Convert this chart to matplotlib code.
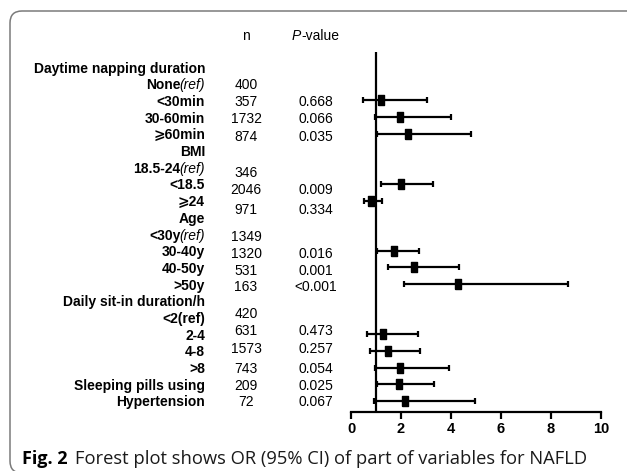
import numpy as np
import matplotlib
matplotlib.use("Agg")
import matplotlib.pyplot as plt
from matplotlib import transforms
from matplotlib.patches import FancyBboxPatch

# row labels (bold part, italic "(ref)" suffix handled separately)
labels = ["Daytime napping duration", "None", "<30min", "30-60min", "\u2a7e60min",
          "BMI", "18.5-24", "<18.5", "\u2a7e24",
          "Age", "<30y", "30-40y", "40-50y", ">50y",
          "Daily sit-in duration/h", "<2(ref)", "2-4", "4-8", ">8",
          "Sleeping pills using", "Hypertension"]
ref_rows = [1, 6, 10]
n_vals = ["", "400", "357", "1732", "874",
          "", "346", "2046", "971",
          "", "1349", "1320", "531", "163",
          "", "420", "631", "1573", "743",
          "209", "72"]
p_vals = ["", "", "0.668", "0.066", "0.035",
          "", "", "0.009", "0.334",
          "", "", "0.016", "0.001", "<0.001",
          "", "", "0.473", "0.257", "0.054",
          "0.025", "0.067"]
nan = np.nan
odds = [nan, nan, 1.21, 1.95, 2.26,
        nan, nan, 1.98, 0.80,
        nan, nan, 1.71, 2.51, 4.28,
        nan, nan, 1.29, 1.46, 1.95,
        1.90, 2.16]
ci_lo = [nan, nan, 0.49, 0.94, 1.05,
         nan, nan, 1.18, 0.51,
         nan, nan, 1.05, 1.46, 2.11,
         nan, nan, 0.62, 0.76, 0.97,
         1.05, 0.93]
ci_hi = [nan, nan, 3.04, 4.01, 4.78,
         nan, nan, 3.28, 1.25,
         nan, nan, 2.70, 4.30, 8.66,
         nan, nan, 2.68, 2.75, 3.92,
         3.32, 4.94]
xticks = [0, 2, 4, 6, 8, 10]

# small vertical offsets of the n / P columns (in rows)
col_shift = [0, 0, 0, 0, 0.1,
             0, 0.25, 0.25, 0.45,
             0, 0.1, 0.1, 0.1, 0.1,
             0, -0.3, -0.3, -0.2, 0,
             0, 0]

W, H = 627, 471
fig = plt.figure(figsize=(W / 100, H / 100), dpi=100)

ylo, yhi = -20.66, 0.9
ax = fig.add_axes([351 / W, 1 - 412 / H, 250 / W, (412 - 52) / H])
ax.set_xlim(0, 10)
ax.set_ylim(ylo, yhi)

rows = -np.arange(len(labels))
odds = np.array(odds)
ci_lo = np.array(ci_lo)
ci_hi = np.array(ci_hi)
ok = ~np.isnan(odds)
ax.errorbar(odds[ok], rows[ok], xerr=[odds[ok] - ci_lo[ok], ci_hi[ok] - odds[ok]],
            fmt="none", ecolor="black", elinewidth=1.6, capsize=2.5, capthick=1.6)
rect = [(-0.5, -1), (0.5, -1), (0.5, 1), (-0.5, 1), (-0.5, -1)]
ax.plot(odds[ok], rows[ok], linestyle="none", marker=rect, markersize=7.5,
        color="black")
ax.axvline(1, color="black", lw=1.6)

for s in ["top", "right", "left"]:
    ax.spines[s].set_visible(False)
ax.spines["bottom"].set_linewidth(1.6)
ax.set_yticks([])
ax.set_xticks(xticks)
ax.tick_params(axis="x", length=5, width=1.6, pad=2.5)
for t in ax.get_xticklabels():
    t.set_fontfamily("Liberation Sans")
    t.set_fontweight("bold")
    t.set_fontsize(10.5)

tr = transforms.blended_transform_factory(fig.transFigure, ax.transData)
fam = ["Liberation Sans", "DejaVu Sans"]
lab_x = 205 / W
renderer = fig.canvas.get_renderer()
for i, lab in enumerate(labels):
    y = rows[i]
    if i in ref_rows:
        r = fig.text(lab_x, y, "(ref)", transform=tr, ha="right",
                     va="center_baseline", family=fam, style="italic",
                     fontsize=10)
        w = r.get_window_extent(renderer=renderer).width / W
        fig.text(lab_x - w + 1 / W, y, lab, transform=tr, ha="right",
                 va="center_baseline", family=fam, fontweight="bold",
                 fontsize=10)
    else:
        fig.text(lab_x, y, lab, transform=tr, ha="right", va="center_baseline",
                 family=fam, fontweight="bold", fontsize=10)
    yc = y - col_shift[i]
    if n_vals[i]:
        fig.text(246 / W, yc, n_vals[i], transform=tr, ha="center",
                 va="center_baseline", family=fam, fontsize=10)
    if p_vals[i]:
        fig.text(316 / W, yc, p_vals[i], transform=tr, ha="center",
                 va="center_baseline", family=fam, fontsize=10)

# column headers
fig.text(246 / W, 1 - 35 / H, "n", ha="center", va="center_baseline",
         family=fam, fontsize=10)
ph = fig.text(292 / W, 1 - 35 / H, "P", ha="left", va="center_baseline",
              family=fam, style="italic", fontsize=10)
pw = ph.get_window_extent(renderer=renderer).width / W
fig.text(292 / W + pw, 1 - 35 / H, "-value", ha="left", va="center_baseline",
         family=fam, fontsize=10)

# caption
cap = fig.text(22 / W, 1 - 457 / H, "Fig. 2", ha="left", va="center_baseline",
               family="Open Sans", fontweight="bold", fontsize=13)
cw = cap.get_window_extent(renderer=renderer).width / W
fig.text(22 / W + cw + 7 / W, 1 - 457 / H,
         "Forest plot shows OR (95% CI) of part of variables for NAFLD",
         ha="left", va="center_baseline", family="Open Sans", fontsize=13.2,
         color="#1a1a1a")

# rounded frame
frame = FancyBboxPatch((0.10, -0.02), 6.5, 4.71 - 0.11 + 0.02,
                       boxstyle="round,pad=0,rounding_size=0.12",
                       transform=fig.dpi_scale_trans, fill=False,
                       edgecolor="#7a7a7a", lw=1.1)
fig.add_artist(frame)

fig.savefig("out.png", dpi=100)
